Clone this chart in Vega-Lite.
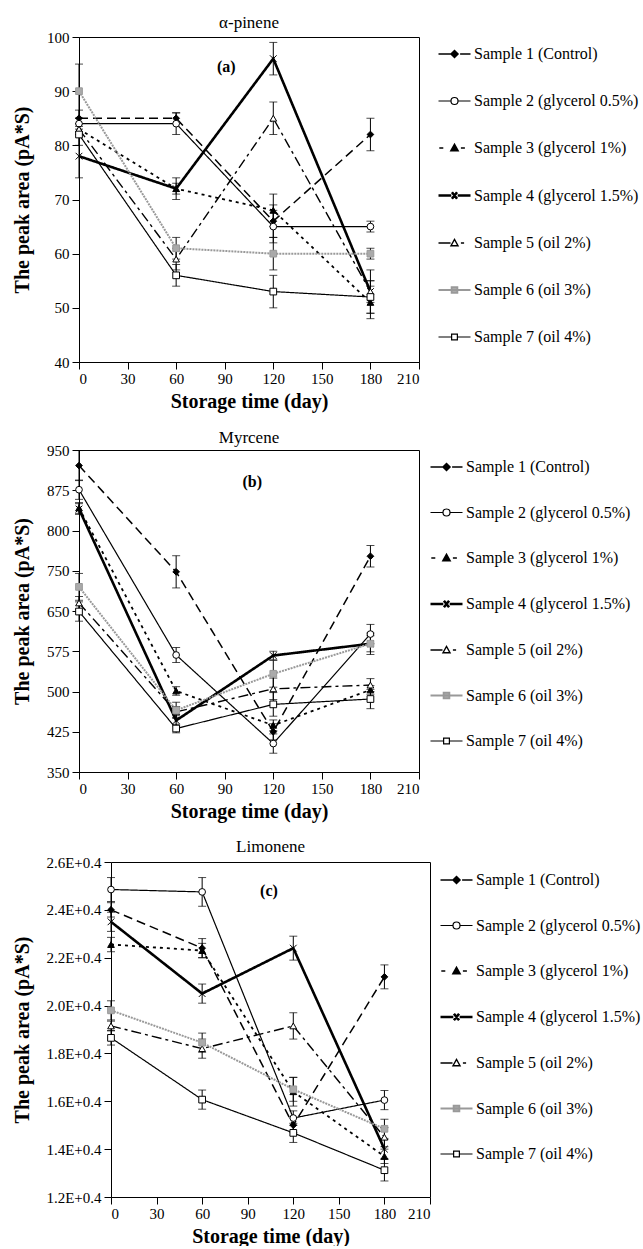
{
  "$schema": "https://vega.github.io/schema/vega-lite/v6.json",
  "padding": {"left": 12, "top": 13, "right": 0, "bottom": 0},
  "spacing": 16,
  "background": "white",
  "resolve": {"scale": {"x": "independent", "y": "independent", "shape": "independent", "fill": "independent", "stroke": "independent", "strokeDash": "independent", "strokeWidth": "independent"}, "legend": {"shape": "independent", "fill": "independent", "stroke": "independent", "strokeWidth": "independent"}},
  "config": {
    "font": "Liberation Serif",
    "view": {"stroke": "black", "strokeWidth": 1},
    "axis": {"grid": false, "domainColor": "black", "tickColor": "black", "labelColor": "black", "titleColor": "black", "labelFont": "Liberation Serif", "titleFont": "Liberation Serif", "labelFontSize": 15, "titleFontSize": 20, "titleFontWeight": "bold", "tickSize": 7, "labelPadding": 3, "domainWidth": 1, "tickWidth": 1},
    "axisY": {"titlePadding": 14},
    "axisX": {"titlePadding": 5, "labelPadding": 2},
    "legend": {"labelFont": "Liberation Serif", "labelFontSize": 16, "labelColor": "black", "symbolSize": 1024, "symbolOpacity": 1, "symbolStrokeColor": "black", "labelOffset": 2, "rowPadding": 22, "padding": 0, "labelLimit": 300},
    "title": {"font": "Liberation Serif", "fontSize": 17, "fontWeight": "normal", "color": "black", "offset": -2}
  },
  "datasets": {
    "a": [
      {"sample": "Sample 1 (Control)", "day": 0, "value": 85, "err": 1.5},
      {"sample": "Sample 1 (Control)", "day": 60, "value": 85, "err": 1},
      {"sample": "Sample 1 (Control)", "day": 120, "value": 66, "err": 3},
      {"sample": "Sample 1 (Control)", "day": 180, "value": 82, "err": 3},
      {"sample": "Sample 2 (glycerol 0.5%)", "day": 0, "value": 84, "err": 1},
      {"sample": "Sample 2 (glycerol 0.5%)", "day": 60, "value": 84, "err": 2},
      {"sample": "Sample 2 (glycerol 0.5%)", "day": 120, "value": 65, "err": 3},
      {"sample": "Sample 2 (glycerol 0.5%)", "day": 180, "value": 65, "err": 1},
      {"sample": "Sample 3 (glycerol 1%)", "day": 0, "value": 83, "err": 1},
      {"sample": "Sample 3 (glycerol 1%)", "day": 60, "value": 72, "err": 1},
      {"sample": "Sample 3 (glycerol 1%)", "day": 120, "value": 68, "err": 3},
      {"sample": "Sample 3 (glycerol 1%)", "day": 180, "value": 51, "err": 3},
      {"sample": "Sample 4 (glycerol 1.5%)", "day": 0, "value": 78, "err": 4},
      {"sample": "Sample 4 (glycerol 1.5%)", "day": 60, "value": 72, "err": 2},
      {"sample": "Sample 4 (glycerol 1.5%)", "day": 120, "value": 96, "err": 3},
      {"sample": "Sample 4 (glycerol 1.5%)", "day": 180, "value": 53, "err": 4},
      {"sample": "Sample 5 (oil 2%)", "day": 0, "value": 83, "err": 1},
      {"sample": "Sample 5 (oil 2%)", "day": 60, "value": 59, "err": 2},
      {"sample": "Sample 5 (oil 2%)", "day": 120, "value": 85, "err": 3},
      {"sample": "Sample 5 (oil 2%)", "day": 180, "value": 53, "err": 2},
      {"sample": "Sample 6 (oil 3%)", "day": 0, "value": 90, "err": 5},
      {"sample": "Sample 6 (oil 3%)", "day": 60, "value": 61, "err": 2},
      {"sample": "Sample 6 (oil 3%)", "day": 120, "value": 60, "err": 3},
      {"sample": "Sample 6 (oil 3%)", "day": 180, "value": 60, "err": 1},
      {"sample": "Sample 7 (oil 4%)", "day": 0, "value": 82, "err": 2},
      {"sample": "Sample 7 (oil 4%)", "day": 60, "value": 56, "err": 2},
      {"sample": "Sample 7 (oil 4%)", "day": 120, "value": 53, "err": 3},
      {"sample": "Sample 7 (oil 4%)", "day": 180, "value": 52, "err": 3}
    ],
    "b": [
      {"sample": "Sample 1 (Control)", "day": 0, "value": 921, "err": 28},
      {"sample": "Sample 1 (Control)", "day": 60, "value": 723, "err": 30},
      {"sample": "Sample 1 (Control)", "day": 120, "value": 425, "err": 15},
      {"sample": "Sample 1 (Control)", "day": 180, "value": 752, "err": 20},
      {"sample": "Sample 2 (glycerol 0.5%)", "day": 0, "value": 876, "err": 18},
      {"sample": "Sample 2 (glycerol 0.5%)", "day": 60, "value": 568, "err": 14},
      {"sample": "Sample 2 (glycerol 0.5%)", "day": 120, "value": 403, "err": 18},
      {"sample": "Sample 2 (glycerol 0.5%)", "day": 180, "value": 607, "err": 18},
      {"sample": "Sample 3 (glycerol 1%)", "day": 0, "value": 842, "err": 10},
      {"sample": "Sample 3 (glycerol 1%)", "day": 60, "value": 501, "err": 8},
      {"sample": "Sample 3 (glycerol 1%)", "day": 120, "value": 437, "err": 10},
      {"sample": "Sample 3 (glycerol 1%)", "day": 180, "value": 503, "err": 8},
      {"sample": "Sample 4 (glycerol 1.5%)", "day": 0, "value": 840, "err": 10},
      {"sample": "Sample 4 (glycerol 1.5%)", "day": 60, "value": 446, "err": 10},
      {"sample": "Sample 4 (glycerol 1.5%)", "day": 120, "value": 567, "err": 8},
      {"sample": "Sample 4 (glycerol 1.5%)", "day": 180, "value": 589, "err": 15},
      {"sample": "Sample 5 (oil 2%)", "day": 0, "value": 665, "err": 12},
      {"sample": "Sample 5 (oil 2%)", "day": 60, "value": 462, "err": 10},
      {"sample": "Sample 5 (oil 2%)", "day": 120, "value": 505, "err": 20},
      {"sample": "Sample 5 (oil 2%)", "day": 180, "value": 512, "err": 12},
      {"sample": "Sample 6 (oil 3%)", "day": 0, "value": 695, "err": 25},
      {"sample": "Sample 6 (oil 3%)", "day": 60, "value": 465, "err": 15},
      {"sample": "Sample 6 (oil 3%)", "day": 120, "value": 533, "err": 25},
      {"sample": "Sample 6 (oil 3%)", "day": 180, "value": 589, "err": 20},
      {"sample": "Sample 7 (oil 4%)", "day": 0, "value": 649, "err": 18},
      {"sample": "Sample 7 (oil 4%)", "day": 60, "value": 431, "err": 8},
      {"sample": "Sample 7 (oil 4%)", "day": 120, "value": 476, "err": 22},
      {"sample": "Sample 7 (oil 4%)", "day": 180, "value": 486, "err": 18}
    ],
    "c": [
      {"sample": "Sample 1 (Control)", "day": 0, "value": 24000, "err": 300},
      {"sample": "Sample 1 (Control)", "day": 60, "value": 22400, "err": 400},
      {"sample": "Sample 1 (Control)", "day": 120, "value": 15000, "err": 300},
      {"sample": "Sample 1 (Control)", "day": 180, "value": 21200, "err": 500},
      {"sample": "Sample 2 (glycerol 0.5%)", "day": 0, "value": 24850, "err": 500},
      {"sample": "Sample 2 (glycerol 0.5%)", "day": 60, "value": 24750, "err": 600},
      {"sample": "Sample 2 (glycerol 0.5%)", "day": 120, "value": 15300, "err": 300},
      {"sample": "Sample 2 (glycerol 0.5%)", "day": 180, "value": 16050, "err": 400},
      {"sample": "Sample 3 (glycerol 1%)", "day": 0, "value": 22550, "err": 300},
      {"sample": "Sample 3 (glycerol 1%)", "day": 60, "value": 22300, "err": 300},
      {"sample": "Sample 3 (glycerol 1%)", "day": 120, "value": 16400, "err": 600},
      {"sample": "Sample 3 (glycerol 1%)", "day": 180, "value": 13700, "err": 300},
      {"sample": "Sample 4 (glycerol 1.5%)", "day": 0, "value": 23500, "err": 400},
      {"sample": "Sample 4 (glycerol 1.5%)", "day": 60, "value": 20500, "err": 400},
      {"sample": "Sample 4 (glycerol 1.5%)", "day": 120, "value": 22400, "err": 500},
      {"sample": "Sample 4 (glycerol 1.5%)", "day": 180, "value": 14000, "err": 400},
      {"sample": "Sample 5 (oil 2%)", "day": 0, "value": 19150, "err": 200},
      {"sample": "Sample 5 (oil 2%)", "day": 60, "value": 18200, "err": 400},
      {"sample": "Sample 5 (oil 2%)", "day": 120, "value": 19150, "err": 550},
      {"sample": "Sample 5 (oil 2%)", "day": 180, "value": 14500, "err": 400},
      {"sample": "Sample 6 (oil 3%)", "day": 0, "value": 19800, "err": 400},
      {"sample": "Sample 6 (oil 3%)", "day": 60, "value": 18450, "err": 400},
      {"sample": "Sample 6 (oil 3%)", "day": 120, "value": 16500, "err": 500},
      {"sample": "Sample 6 (oil 3%)", "day": 180, "value": 14850, "err": 400},
      {"sample": "Sample 7 (oil 4%)", "day": 0, "value": 18650, "err": 300},
      {"sample": "Sample 7 (oil 4%)", "day": 60, "value": 16070, "err": 400},
      {"sample": "Sample 7 (oil 4%)", "day": 120, "value": 14680, "err": 400},
      {"sample": "Sample 7 (oil 4%)", "day": 180, "value": 13120, "err": 450}
    ]
  },
  "vconcat": [
    {
      "title": "α-pinene",
      "width": 340,
      "height": 325,
      "data": {"name": "a"},
      "resolve": {"scale": {"shape": "independent", "fill": "independent", "stroke": "independent", "strokeDash": "independent", "strokeWidth": "independent"}},
      "encoding": {
        "x": {"field": "day", "type": "quantitative", "scale": {"domain": [0, 210], "nice": false}, "axis": {"values": [0, 30, 60, 90, 120, 150, 180, 210], "title": "Storage time (day)"}},
        "y": {"field": "value", "type": "quantitative", "scale": {"domain": [40, 100], "nice": false, "zero": false}, "axis": {"values": [40, 50, 60, 70, 80, 90, 100], "title": "The peak area (pA*S)"}}
      },
      "layer": [
        {
          "mark": {"type": "line"},
          "encoding": {
            "stroke": {"field": "sample", "type": "nominal", "legend": null, "scale": {"range": ["black", "black", "black", "black", "black", "#999999", "black"]}},
            "strokeDash": {"field": "sample", "type": "nominal", "legend": null, "scale": {"range": [[9, 5], [1, 0], [3, 4], [1, 0], [10, 4, 3, 4], [2, 1], [1, 0]]}},
            "strokeWidth": {"field": "sample", "type": "nominal", "legend": null, "scale": {"type": "ordinal", "range": [1.5, 1.2, 1.8, 2.6, 1.4, 2, 1.2]}}
          }
        },
        {
          "mark": {"type": "errorbar", "ticks": true, "size": 8, "thickness": 1, "color": "black"},
          "encoding": {"yError": {"field": "err"}}
        },
        {
          "mark": {"type": "point", "size": 45, "opacity": 1, "strokeWidth": 1},
          "encoding": {
            "shape": {"field": "sample", "type": "nominal", "legend": null, "scale": {"range": ["diamond", "circle", "triangle-up", "M-1,-1L1,1M-1,1L1,-1", "triangle-up", "square", "square"]}},
            "fill": {"field": "sample", "type": "nominal", "legend": null, "scale": {"range": ["black", "white", "black", "black", "white", "#aaaaaa", "white"]}},
            "stroke": {"field": "sample", "type": "nominal", "legend": null, "scale": {"range": ["black", "black", "black", "black", "black", "#999999", "black"]}}
          }
        },
        {
          "mark": {"type": "point", "opacity": 0, "color": "black", "stroke": "black"},
          "encoding": {
            "shape": {"field": "sample", "type": "nominal", "legend": {"title": null, "orient": "right", "offset": 18, "rowPadding": 22}, "scale": {"range": ["M-1,0H-0.22M0.35,0H1M0,-0.22L0.22,0L0,0.22L-0.22,0Z", "M-1,0H-0.22M0.22,0H1M-0.22,0A0.22,0.22,0,1,0,0.22,0A0.22,0.22,0,1,0,-0.22,0Z", "M-0.95,0H-0.7M-0.22,0.17L0,-0.22L0.22,0.17ZM0.4,0H0.65", "M-1,0H-0.2M0.2,0H1M-0.16,-0.2L0.16,0.2M-0.16,0.2L0.16,-0.2", "M-1,0H-0.25M-0.22,0.17L0,-0.22L0.22,0.17ZM0.4,0H0.6", "M-1,0H1M-0.18,-0.18H0.18V0.18H-0.18Z", "M-1,0H-0.2M0.2,0H1M-0.18,-0.18H0.18V0.18H-0.18Z"]}},
            "fill": {"field": "sample", "type": "nominal", "legend": {"title": null, "orient": "right", "offset": 18, "rowPadding": 22}, "scale": {"range": ["black", "white", "black", "black", "white", "#aaaaaa", "white"]}},
            "stroke": {"field": "sample", "type": "nominal", "legend": {"title": null, "orient": "right", "offset": 18, "rowPadding": 22}, "scale": {"range": ["black", "black", "black", "black", "black", "#999999", "black"]}},
            "strokeWidth": {"field": "sample", "type": "nominal", "legend": {"title": null, "orient": "right", "offset": 18, "rowPadding": 22}, "scale": {"type": "ordinal", "range": [1.5, 1.2, 1.6, 2.6, 1.4, 1.8, 1.2]}}
          }
        },
        {
          "data": {"values": [{"day": 91, "value": 94.5, "label": "(a)"}]},
          "mark": {"type": "text", "fontWeight": "bold", "fontSize": 16, "font": "Liberation Serif", "color": "black"},
          "encoding": {"text": {"field": "label"}}
        }
      ]
    },
    {
      "title": {"text": "Myrcene", "offset": -4},
      "width": 340,
      "height": 322,
      "data": {"name": "b"},
      "resolve": {"scale": {"shape": "independent", "fill": "independent", "stroke": "independent", "strokeDash": "independent", "strokeWidth": "independent"}},
      "encoding": {
        "x": {"field": "day", "type": "quantitative", "scale": {"domain": [0, 210], "nice": false}, "axis": {"values": [0, 30, 60, 90, 120, 150, 180, 210], "title": "Storage time (day)"}},
        "y": {"field": "value", "type": "quantitative", "scale": {"domain": [350, 950], "nice": false, "zero": false}, "axis": {"values": [350, 425, 500, 575, 650, 725, 800, 875, 950], "labelExpr": "datum.value == 725 ? '750' : datum.label", "title": "The peak area (pA*S)"}}
      },
      "layer": [
        {
          "mark": {"type": "line"},
          "encoding": {
            "stroke": {"field": "sample", "type": "nominal", "legend": null, "scale": {"range": ["black", "black", "black", "black", "black", "#999999", "black"]}},
            "strokeDash": {"field": "sample", "type": "nominal", "legend": null, "scale": {"range": [[9, 5], [1, 0], [3, 4], [1, 0], [10, 4, 3, 4], [2, 1], [1, 0]]}},
            "strokeWidth": {"field": "sample", "type": "nominal", "legend": null, "scale": {"type": "ordinal", "range": [1.5, 1.2, 1.8, 2.6, 1.4, 2, 1.2]}}
          }
        },
        {
          "mark": {"type": "errorbar", "ticks": true, "size": 8, "thickness": 1, "color": "black"},
          "encoding": {"yError": {"field": "err"}}
        },
        {
          "mark": {"type": "point", "size": 45, "opacity": 1, "strokeWidth": 1},
          "encoding": {
            "shape": {"field": "sample", "type": "nominal", "legend": null, "scale": {"range": ["diamond", "circle", "triangle-up", "M-1,-1L1,1M-1,1L1,-1", "triangle-up", "square", "square"]}},
            "fill": {"field": "sample", "type": "nominal", "legend": null, "scale": {"range": ["black", "white", "black", "black", "white", "#aaaaaa", "white"]}},
            "stroke": {"field": "sample", "type": "nominal", "legend": null, "scale": {"range": ["black", "black", "black", "black", "black", "#999999", "black"]}}
          }
        },
        {
          "mark": {"type": "point", "opacity": 0, "color": "black", "stroke": "black"},
          "encoding": {
            "shape": {"field": "sample", "type": "nominal", "legend": {"title": null, "orient": "right", "offset": 10, "rowPadding": 20.5}, "scale": {"range": ["M-1,0H-0.22M0.35,0H1M0,-0.22L0.22,0L0,0.22L-0.22,0Z", "M-1,0H-0.22M0.22,0H1M-0.22,0A0.22,0.22,0,1,0,0.22,0A0.22,0.22,0,1,0,-0.22,0Z", "M-0.95,0H-0.7M-0.22,0.17L0,-0.22L0.22,0.17ZM0.4,0H0.65", "M-1,0H-0.2M0.2,0H1M-0.16,-0.2L0.16,0.2M-0.16,0.2L0.16,-0.2", "M-1,0H-0.25M-0.22,0.17L0,-0.22L0.22,0.17ZM0.4,0H0.6", "M-1,0H1M-0.18,-0.18H0.18V0.18H-0.18Z", "M-1,0H-0.2M0.2,0H1M-0.18,-0.18H0.18V0.18H-0.18Z"]}},
            "fill": {"field": "sample", "type": "nominal", "legend": {"title": null, "orient": "right", "offset": 10, "rowPadding": 20.5}, "scale": {"range": ["black", "white", "black", "black", "white", "#aaaaaa", "white"]}},
            "stroke": {"field": "sample", "type": "nominal", "legend": {"title": null, "orient": "right", "offset": 10, "rowPadding": 20.5}, "scale": {"range": ["black", "black", "black", "black", "black", "#999999", "black"]}},
            "strokeWidth": {"field": "sample", "type": "nominal", "legend": {"title": null, "orient": "right", "offset": 10, "rowPadding": 20.5}, "scale": {"type": "ordinal", "range": [1.5, 1.2, 1.6, 2.6, 1.4, 1.8, 1.2]}}
          }
        },
        {
          "data": {"values": [{"day": 107, "value": 890, "label": "(b)"}]},
          "mark": {"type": "text", "fontWeight": "bold", "fontSize": 16, "font": "Liberation Serif", "color": "black"},
          "encoding": {"text": {"field": "label"}}
        }
      ]
    },
    {
      "title": {"text": "Limonene", "offset": -1, "dx": 16},
      "width": 351,
      "height": 335,
      "view": {"stroke": null},
      "data": {"name": "c"},
      "resolve": {"axis": {"x": "independent", "y": "independent"}},
      "layer": [
        {
          "resolve": {"scale": {"shape": "independent", "fill": "independent", "stroke": "independent", "strokeDash": "independent", "strokeWidth": "independent"}},
          "encoding": {
            "x": {"field": "day", "type": "quantitative", "scale": {"domain": [0, 210], "range": [32, 351], "nice": false}, "axis": {"values": [0, 30, 60, 90, 120, 150, 180, 210], "title": "Storage time (day)"}},
            "y": {"field": "value", "type": "quantitative", "scale": {"domain": [12000, 26000], "nice": false, "zero": false}, "axis": {"values": [12000, 14000, 16000, 18000, 20000, 22000, 24000, 26000], "labelExpr": "format(datum.value / 10000, '.1f') + 'E+0.4'", "title": "The peak area (pA*S)", "titlePadding": 13, "offset": -32}}
          },
          "layer": [
            {
              "mark": {"type": "line"},
              "encoding": {
                "stroke": {"field": "sample", "type": "nominal", "legend": null, "scale": {"range": ["black", "black", "black", "black", "black", "#999999", "black"]}},
                "strokeDash": {"field": "sample", "type": "nominal", "legend": null, "scale": {"range": [[9, 5], [1, 0], [3, 4], [1, 0], [10, 4, 3, 4], [2, 1], [1, 0]]}},
                "strokeWidth": {"field": "sample", "type": "nominal", "legend": null, "scale": {"type": "ordinal", "range": [1.5, 1.2, 1.8, 2.6, 1.4, 2, 1.2]}}
              }
            },
            {
              "mark": {"type": "errorbar", "ticks": true, "size": 8, "thickness": 1, "color": "black"},
              "encoding": {"yError": {"field": "err"}}
            },
            {
              "mark": {"type": "point", "size": 45, "opacity": 1, "strokeWidth": 1},
              "encoding": {
                "shape": {"field": "sample", "type": "nominal", "legend": null, "scale": {"range": ["diamond", "circle", "triangle-up", "M-1,-1L1,1M-1,1L1,-1", "triangle-up", "square", "square"]}},
                "fill": {"field": "sample", "type": "nominal", "legend": null, "scale": {"range": ["black", "white", "black", "black", "white", "#aaaaaa", "white"]}},
                "stroke": {"field": "sample", "type": "nominal", "legend": null, "scale": {"range": ["black", "black", "black", "black", "black", "#999999", "black"]}}
              }
            },
            {
              "mark": {"type": "point", "opacity": 0, "color": "black", "stroke": "black"},
              "encoding": {
                "shape": {"field": "sample", "type": "nominal", "legend": {"title": null, "orient": "right", "offset": 8, "padding": 1, "rowPadding": 20.5}, "scale": {"range": ["M-1,0H-0.22M0.35,0H1M0,-0.22L0.22,0L0,0.22L-0.22,0Z", "M-1,0H-0.22M0.22,0H1M-0.22,0A0.22,0.22,0,1,0,0.22,0A0.22,0.22,0,1,0,-0.22,0Z", "M-0.95,0H-0.7M-0.22,0.17L0,-0.22L0.22,0.17ZM0.4,0H0.65", "M-1,0H-0.2M0.2,0H1M-0.16,-0.2L0.16,0.2M-0.16,0.2L0.16,-0.2", "M-1,0H-0.25M-0.22,0.17L0,-0.22L0.22,0.17ZM0.4,0H0.6", "M-1,0H1M-0.18,-0.18H0.18V0.18H-0.18Z", "M-1,0H-0.2M0.2,0H1M-0.18,-0.18H0.18V0.18H-0.18Z"]}},
                "fill": {"field": "sample", "type": "nominal", "legend": {"title": null, "orient": "right", "offset": 8, "padding": 1, "rowPadding": 20.5}, "scale": {"range": ["black", "white", "black", "black", "white", "#aaaaaa", "white"]}},
                "stroke": {"field": "sample", "type": "nominal", "legend": {"title": null, "orient": "right", "offset": 8, "padding": 1, "rowPadding": 20.5}, "scale": {"range": ["black", "black", "black", "black", "black", "#999999", "black"]}},
                "strokeWidth": {"field": "sample", "type": "nominal", "legend": {"title": null, "orient": "right", "offset": 8, "padding": 1, "rowPadding": 20.5}, "scale": {"type": "ordinal", "range": [1.5, 1.2, 1.6, 2.6, 1.4, 1.8, 1.2]}}
              }
            },
            {
              "data": {"values": [{"day": 104, "value": 24790, "label": "(c)"}]},
              "mark": {"type": "text", "fontWeight": "bold", "fontSize": 16, "font": "Liberation Serif", "color": "black"},
              "encoding": {"text": {"field": "label"}}
            }
          ]
        },
        {
          "data": {"values": [{"day": 0, "value": 26000}]},
          "mark": {"type": "point", "opacity": 0},
          "encoding": {
            "x": {"field": "day", "type": "quantitative", "scale": {"domain": [0, 210], "range": [32, 351], "nice": false}, "axis": {"orient": "top", "labels": false, "ticks": false, "title": null, "domain": true}},
            "y": {"field": "value", "type": "quantitative", "scale": {"domain": [12000, 26000], "nice": false, "zero": false}, "axis": {"orient": "right", "labels": false, "ticks": false, "title": null, "domain": true}}
          }
        }
      ]
    }
  ]
}
